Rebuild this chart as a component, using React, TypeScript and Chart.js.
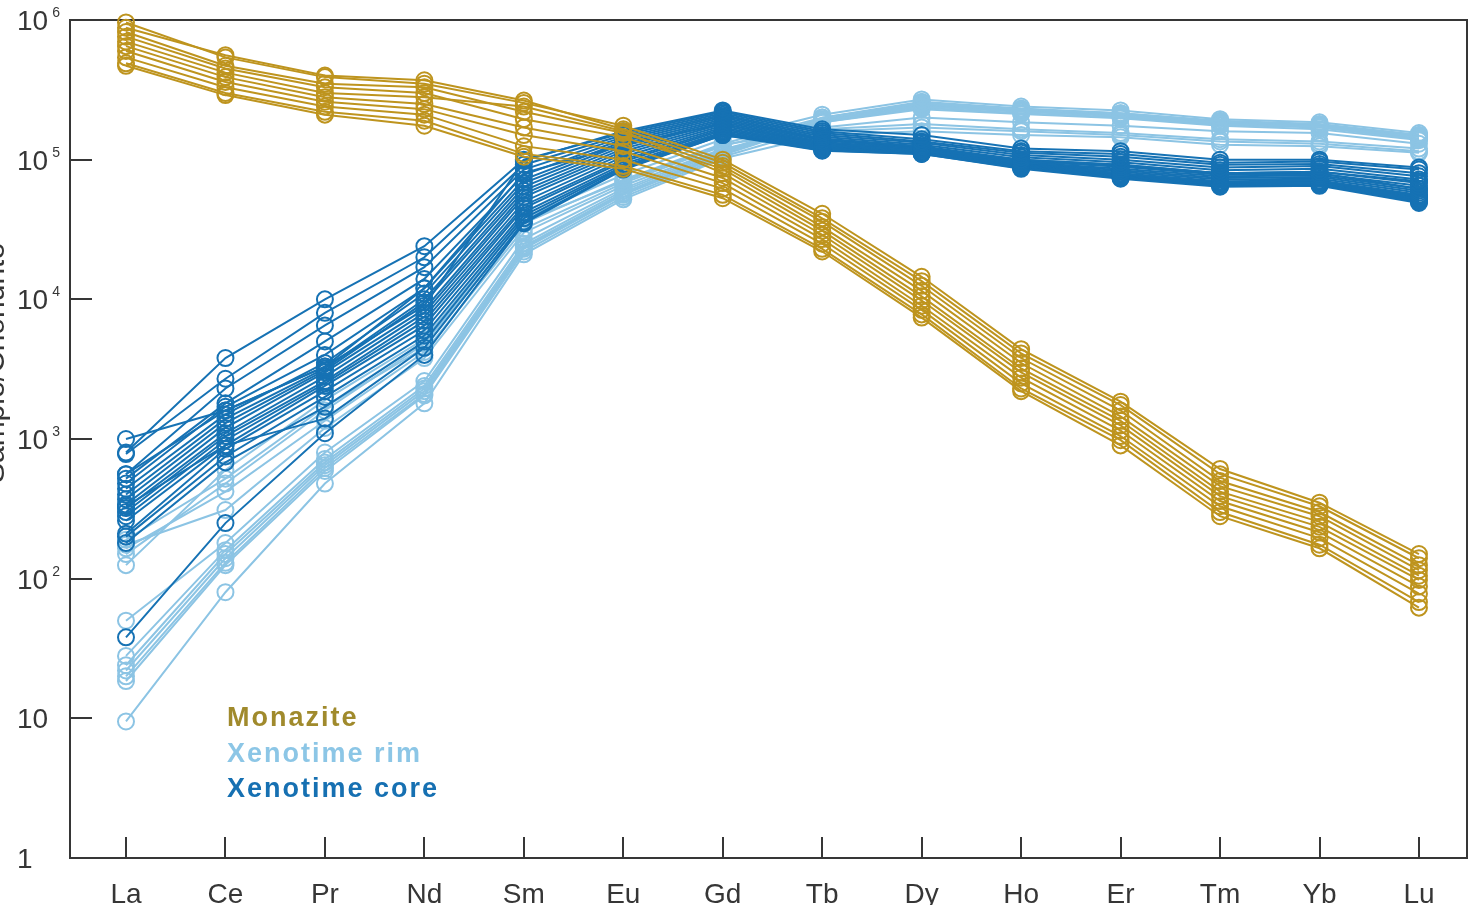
import React, { useEffect, useRef } from "react";
import { Chart, registerables } from "chart.js";

Chart.register(...registerables);

// ---------- data ----------
const ELEMENTS = ["La", "Ce", "Pr", "Nd", "Sm", "Eu", "Gd", "Tb", "Dy", "Ho", "Er", "Tm", "Yb", "Lu"];

const Y_TICKS = [1, 10, 100, 1000, 10000, 100000, 1000000];
const Y_TICK_BASE = ["1", "10", "10", "10", "10", "10", "10"];
const Y_TICK_EXP = ["", "", "2", "3", "4", "5", "6"];

const Y_TITLE = "Sample/Chondrite";
const LEGEND_LABELS = ["Monazite", "Xenotime rim", "Xenotime core"];

// Monazite (chondrite-normalised)
const MONAZITE: number[][] = [
  [960000, 540000, 390000, 350000, 255000, 175000, 100000, 41000, 14500, 4400, 1850, 610, 350, 150],
  [880000, 560000, 400000, 370000, 265000, 165000, 95000, 38000, 13500, 4100, 1750, 560, 330, 140],
  [820000, 470000, 350000, 330000, 220000, 155000, 90000, 36000, 12500, 3800, 1600, 500, 300, 125],
  [760000, 450000, 330000, 300000, 195000, 145000, 86000, 33000, 11500, 3500, 1450, 460, 280, 115],
  [700000, 420000, 300000, 280000, 240000, 160000, 80000, 31000, 10500, 3200, 1350, 420, 255, 105],
  [650000, 390000, 280000, 250000, 170000, 125000, 74000, 29000, 9800, 3000, 1250, 390, 235, 98],
  [600000, 360000, 260000, 230000, 150000, 115000, 68000, 27000, 9000, 2750, 1150, 360, 215, 88],
  [540000, 330000, 240000, 210000, 125000, 100000, 62000, 25000, 8400, 2500, 1050, 330, 195, 78],
  [490000, 300000, 220000, 190000, 110000, 90000, 56000, 23000, 7800, 2300, 980, 300, 175, 68],
  [470000, 290000, 210000, 175000, 105000, 86000, 53000, 22000, 7400, 2200, 900, 280, 165, 62],
];

// Xenotime core
const XENOTIME_CORE: number[][] = [
  [1000, 1600, 3300, 9000, 98000, 160000, 225000, 165000, 150000, 120000, 115000, 100000, 100000, 88000],
  [800, 3800, 10000, 24000, 100000, 155000, 220000, 160000, 140000, 115000, 110000, 95000, 97000, 85000],
  [780, 2700, 8000, 20000, 92000, 150000, 215000, 155000, 135000, 112000, 105000, 92000, 93000, 80000],
  [560, 2300, 6500, 17000, 85000, 145000, 210000, 150000, 132000, 108000, 100000, 88000, 90000, 76000],
  [520, 1800, 5000, 14000, 78000, 140000, 205000, 146000, 128000, 104000, 96000, 84000, 86000, 72000],
  [480, 1700, 4000, 12000, 72000, 135000, 200000, 142000, 125000, 100000, 92000, 80000, 82000, 68000],
  [440, 1500, 3500, 11000, 68000, 130000, 195000, 140000, 123000, 98000, 89000, 78000, 79000, 65000],
  [400, 1400, 3200, 10000, 64000, 125000, 190000, 137000, 121000, 96000, 86000, 76000, 77000, 62000],
  [370, 1300, 3100, 9500, 60000, 120000, 185000, 134000, 119000, 95000, 84000, 74000, 75000, 60000],
  [340, 1200, 3000, 8500, 57000, 115000, 180000, 131000, 117000, 94000, 82000, 72000, 73000, 58000],
  [320, 1100, 2800, 8000, 54000, 110000, 175000, 128000, 116000, 93000, 80000, 70000, 71000, 56000],
  [300, 1050, 2600, 7500, 50000, 105000, 170000, 126000, 115000, 92000, 79000, 69000, 70000, 55000],
  [280, 980, 2500, 7000, 47000, 100000, 166000, 124000, 114000, 91000, 78000, 68000, 69000, 54000],
  [260, 900, 2400, 6500, 45000, 97000, 162000, 122000, 113000, 90000, 77000, 67000, 68000, 53000],
  [210, 850, 2200, 6000, 42000, 93000, 158000, 120000, 112000, 89000, 76000, 66000, 67000, 52000],
  [200, 750, 2000, 5500, 40000, 90000, 155000, 118000, 111000, 88000, 75000, 66000, 66000, 51000],
  [180, 680, 1700, 5000, 38000, 88000, 152000, 117000, 110000, 87000, 74000, 65000, 66000, 50000],
  [330, 900, 1400, 4500, 36000, 86000, 150000, 116000, 110000, 86000, 73000, 64000, 65000, 49000],
  [38, 250, 1100, 4000, 35000, 85000, 150000, 125000, 118000, 97000, 90000, 80000, 82000, 70000],
  [560, 1600, 3300, 12000, 80000, 128000, 180000, 130000, 120000, 100000, 92000, 80000, 80000, 62000],
];

// Xenotime rim
const XENOTIME_RIM: number[][] = [
  [125, 600, 1900, 5200, 38000, 78000, 140000, 210000, 270000, 240000, 225000, 195000, 185000, 155000],
  [150, 480, 1600, 4800, 35000, 72000, 130000, 200000, 255000, 230000, 215000, 190000, 180000, 150000],
  [165, 420, 1350, 4200, 32000, 68000, 125000, 190000, 240000, 220000, 205000, 180000, 172000, 145000],
  [175, 310, 1200, 3800, 30000, 65000, 120000, 160000, 170000, 160000, 150000, 135000, 130000, 115000],
  [50, 180, 800, 2600, 27000, 62000, 118000, 185000, 235000, 215000, 200000, 178000, 170000, 140000],
  [28, 160, 720, 2400, 25000, 60000, 115000, 195000, 250000, 225000, 210000, 185000, 175000, 148000],
  [24, 150, 680, 2300, 24000, 58000, 112000, 200000, 260000, 232000, 215000, 188000, 178000, 150000],
  [22, 140, 650, 2200, 23500, 57000, 110000, 190000, 245000, 222000, 205000, 182000, 172000, 142000],
  [20, 130, 620, 2100, 23000, 56000, 108000, 185000, 230000, 212000, 198000, 175000, 165000, 138000],
  [18.5, 125, 590, 2050, 22000, 54000, 105000, 170000, 200000, 185000, 175000, 160000, 155000, 130000],
  [9.5, 80, 480, 1800, 21000, 52000, 102000, 150000, 160000, 150000, 145000, 128000, 125000, 112000],
  [190, 520, 1700, 4500, 36000, 70000, 128000, 165000, 180000, 165000, 155000, 140000, 135000, 120000],
];

// ---------- styles ----------
const LINE_COLORS = ["#BE941E", "#8CC4E4", "#1672B4"];
const LEGEND_COLORS = ["#A08A2C", "#8CC6E6", "#1670B2"];
const AXIS_COLOR = "#363636";
const FONT = '"Liberation Sans", Arial, Helvetica, sans-serif';

function makeDatasets(rows: number[][], color: string, group: string) {
  return rows.map((row, k) => ({
    label: `${group} ${k + 1}`,
    data: row.map((v, i) => ({ x: i, y: v })),
    borderColor: color,
    borderWidth: 2,
    pointStyle: "circle" as const,
    pointRadius: 8,
    pointBorderWidth: 2,
    pointBorderColor: color,
    pointBackgroundColor: "rgba(0,0,0,0)",
    pointHoverRadius: 8,
    fill: false,
    tension: 0,
    clip: false as const,
  }));
}

const framePlugin = {
  id: "framePlugin",
  beforeDatasetsDraw(chart: any) {
    const { ctx, chartArea } = chart;
    const { left, top, right, bottom } = chartArea;
    const xs = chart.scales.x;
    const ys = chart.scales.y;
    ctx.save();
    ctx.strokeStyle = AXIS_COLOR;
    ctx.lineWidth = 2;
    ctx.beginPath();
    ctx.moveTo(left, top);
    ctx.lineTo(right, top);
    ctx.lineTo(right, bottom);
    ctx.lineTo(left, bottom);
    ctx.closePath();
    ctx.stroke();
    // inward x ticks
    ctx.beginPath();
    ELEMENTS.forEach((_, i) => {
      const px = Math.round(xs.getPixelForValue(i));
      ctx.moveTo(px, bottom);
      ctx.lineTo(px, bottom - 21);
    });
    // inward y ticks
    Y_TICKS.forEach((v) => {
      const py = Math.round(ys.getPixelForValue(v));
      ctx.moveTo(left, py);
      ctx.lineTo(left + 22, py);
    });
    ctx.stroke();
    ctx.restore();
  },
  afterDraw(chart: any) {
    const { ctx, chartArea } = chart;
    const ys = chart.scales.y;
    ctx.save();
    // y tick labels with superscript exponents
    ctx.fillStyle = AXIS_COLOR;
    ctx.textAlign = "left";
    ctx.textBaseline = "alphabetic";
    const lx = ys.left;
    Y_TICKS.forEach((v, i) => {
      const py = ys.getPixelForValue(v);
      ctx.font = `28px ${FONT}`;
      const base = Y_TICK_BASE[i];
      ctx.fillText(base, lx, py + 10);
      if (Y_TICK_EXP[i]) {
        const w = ctx.measureText(base).width;
        ctx.font = `14px ${FONT}`;
        ctx.fillText(Y_TICK_EXP[i], lx + w + 4, py - 3);
      }
    });
    // y axis title (rotated)
    ctx.save();
    ctx.translate(4, (chartArea.top + chartArea.bottom) / 2 - 76);
    ctx.rotate(-Math.PI / 2);
    ctx.textAlign = "center";
    ctx.textBaseline = "alphabetic";
    ctx.font = `30px ${FONT}`;
    ctx.fillStyle = AXIS_COLOR;
    ctx.fillText(Y_TITLE, 0, 0);
    ctx.restore();
    // legend
    ctx.font = `bold 27px ${FONT}`;
    (ctx as any).letterSpacing = "2px";
    ctx.textAlign = "left";
    const legX = chartArea.left + 157;
    LEGEND_LABELS.forEach((lab, i) => {
      ctx.fillStyle = LEGEND_COLORS[i];
      ctx.fillText(lab, legX, chartArea.top + 706 + i * 35.7);
    });
    ctx.restore();
  },
};

export default function App() {
  const canvasRef = useRef<HTMLCanvasElement | null>(null);

  useEffect(() => {
    if (!canvasRef.current) return;
    const datasets = [
      ...makeDatasets(MONAZITE, LINE_COLORS[0], LEGEND_LABELS[0]),
      ...makeDatasets(XENOTIME_CORE, LINE_COLORS[2], LEGEND_LABELS[2]),
      ...makeDatasets(XENOTIME_RIM, LINE_COLORS[1], LEGEND_LABELS[1]),
    ];
    const chart = new Chart(canvasRef.current, {
      type: "line",
      data: { datasets },
      options: {
        animation: false,
        responsive: true,
        maintainAspectRatio: false,
        layout: { autoPadding: false, padding: { left: 17, top: 20, right: 2, bottom: 0 } },
        plugins: {
          legend: { display: false },
          tooltip: { enabled: false },
          title: { display: false },
        },
        events: [],
        scales: {
          x: {
            type: "linear",
            min: -0.563,
            max: 13.483,
            grid: { display: false, drawTicks: false },
            border: { display: false },
            afterBuildTicks: (scale: any) => {
              scale.ticks = ELEMENTS.map((_, i) => ({ value: i }));
            },
            afterFit: (scale: any) => {
              scale.height = 47;
            },
            ticks: {
              autoSkip: false,
              maxRotation: 0,
              minRotation: 0,
              padding: 20,
              color: AXIS_COLOR,
              font: { family: FONT, size: 28 },
              callback: (v: any) => ELEMENTS[Math.round(Number(v))] ?? "",
            },
          },
          y: {
            type: "logarithmic",
            min: 1,
            max: 1000000,
            grid: { display: false, drawTicks: false },
            border: { display: false },
            afterBuildTicks: (scale: any) => {
              scale.ticks = Y_TICKS.map((v) => ({ value: v }));
            },
            afterFit: (scale: any) => {
              scale.width = 53;
            },
            ticks: { display: false },
          },
        },
      },
      plugins: [framePlugin],
    });
    return () => chart.destroy();
  }, []);

  return (
    <div
      style={{
        position: "fixed",
        left: 0,
        top: 0,
        width: "1469px",
        height: "905px",
        background: "#ffffff",
        overflow: "hidden",
      }}
    >
      <canvas ref={canvasRef} />
    </div>
  );
}
